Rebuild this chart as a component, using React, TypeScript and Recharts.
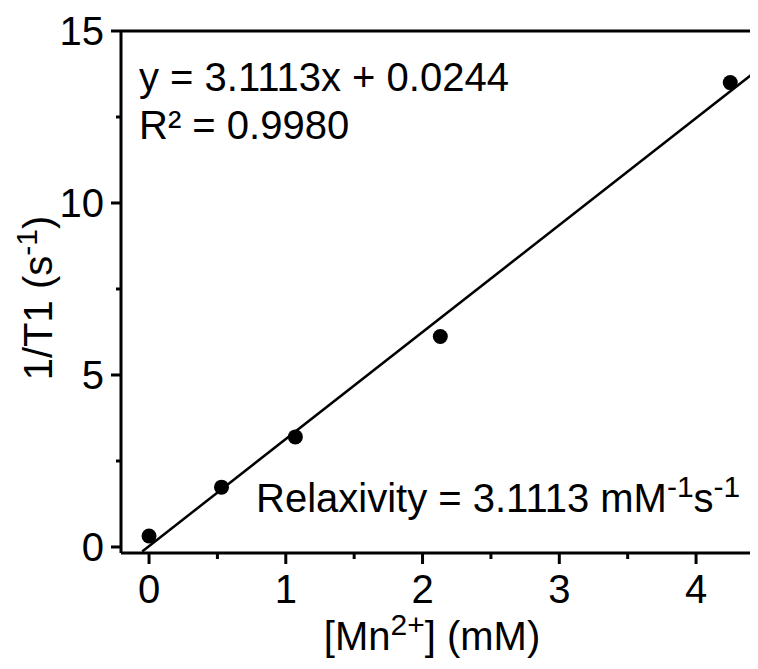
import React from 'react';
import { ComposedChart, Scatter, XAxis, YAxis, ReferenceLine, Customized } from 'recharts';

const concentration = [0, 0.53, 1.07, 2.13, 4.25];
const rate = [0.32, 1.74, 3.2, 6.12, 13.5];
const fitX = [-0.05, 4.45];
const fitY = [-0.13, 13.87];
const xTicks = [0, 0.5, 1, 1.5, 2, 2.5, 3, 3.5, 4];
const yTicks = [0, 2.5, 5, 7.5, 10, 12.5, 15];
const xMajor = [0, 1, 2, 3, 4];
const yMajor = [0, 5, 10, 15];

const points = concentration.map((x, i) => ({ x, y: rate[i] }));
const fitLine = fitX.map((x, i) => ({ x, y: fitY[i] }));

const FONT = '"Liberation Sans", Arial, sans-serif';
const FS = 40;
const SUP = 30;

const XTick = (props: any) => {
  const { x, y, payload } = props;
  const major = xMajor.includes(payload.value);
  return (
    <g>
      <line x1={x} x2={x} y1={y} y2={y + (major ? 11 : 6)} stroke="#000" strokeWidth={3} />
      {major && (
        <text x={x} y={y + 50} textAnchor="middle" fontFamily={FONT} fontSize={FS} fill="#000">
          {payload.value}
        </text>
      )}
    </g>
  );
};

const YTick = (props: any) => {
  const { x, y, payload } = props;
  const major = yMajor.includes(payload.value);
  return (
    <g>
      <line x1={x} x2={x - (major ? 10 : 5)} y1={y} y2={y} stroke="#000" strokeWidth={3} />
      {major && (
        <text x={x - 17} y={y} dy="0.36em" textAnchor="end" fontFamily={FONT} fontSize={FS} fill="#000">
          {payload.value}
        </text>
      )}
    </g>
  );
};

const Dot = (props: any) => <circle cx={props.cx} cy={props.cy} r={7.5} fill="#000" />;
const NoDot = () => <g />;

const Annotations = () => (
  <g fontFamily={FONT} fill="#000">
    <text x={131} y={83} fontSize={FS}>y = 3.1113x + 0.0244</text>
    <text x={131} y={131} fontSize={FS}>R² = 0.9980</text>
    <text x={248} y={504} fontSize={FS}>
      Relaxivity = 3.1113 mM
      <tspan fontSize={SUP} dy={-15}>-1</tspan>
      <tspan fontSize={FS} dy={15}>s</tspan>
      <tspan fontSize={SUP} dy={-15}>-1</tspan>
    </text>
    <text x={424} y={642} fontSize={FS} textAnchor="middle">
      [Mn
      <tspan fontSize={SUP} dy={-15}>2+</tspan>
      <tspan fontSize={FS} dy={15}>] (mM)</tspan>
    </text>
    <text transform="translate(44,290) rotate(-90)" fontSize={FS} textAnchor="middle">
      1/T1 (s
      <tspan fontSize={SUP} dy={-15}>-1</tspan>
      <tspan fontSize={FS} dy={15}>)</tspan>
    </text>
  </g>
);

export default function App() {
  return (
    <div style={{ width: 750, height: 661, background: '#fff' }}>
      <ComposedChart width={750} height={661} margin={{ top: 23, right: 0, bottom: 0, left: 0 }}>
        <XAxis
          type="number"
          dataKey="x"
          domain={[-0.205, 4.453]}
          ticks={xTicks}
          allowDataOverflow
          height={116}
          axisLine={{ stroke: '#000', strokeWidth: 3 }}
          tickLine={false}
          tickSize={0}
          tickMargin={0}
          tick={<XTick />}
          interval={0}
        />
        <YAxis
          type="number"
          dataKey="y"
          domain={[-0.175, 15]}
          ticks={yTicks}
          allowDataOverflow
          width={113}
          axisLine={{ stroke: '#000', strokeWidth: 3 }}
          tickLine={false}
          tickSize={0}
          tickMargin={0}
          tick={<YTick />}
          interval={0}
        />
        <ReferenceLine y={15} stroke="#000" strokeWidth={3} />
        <Scatter data={fitLine} line={{ stroke: '#000', strokeWidth: 2.5 }} shape={<NoDot />} isAnimationActive={false} />
        <Scatter data={points} shape={<Dot />} fill="#000" isAnimationActive={false} />
        <Customized component={<Annotations />} />
      </ComposedChart>
    </div>
  );
}
